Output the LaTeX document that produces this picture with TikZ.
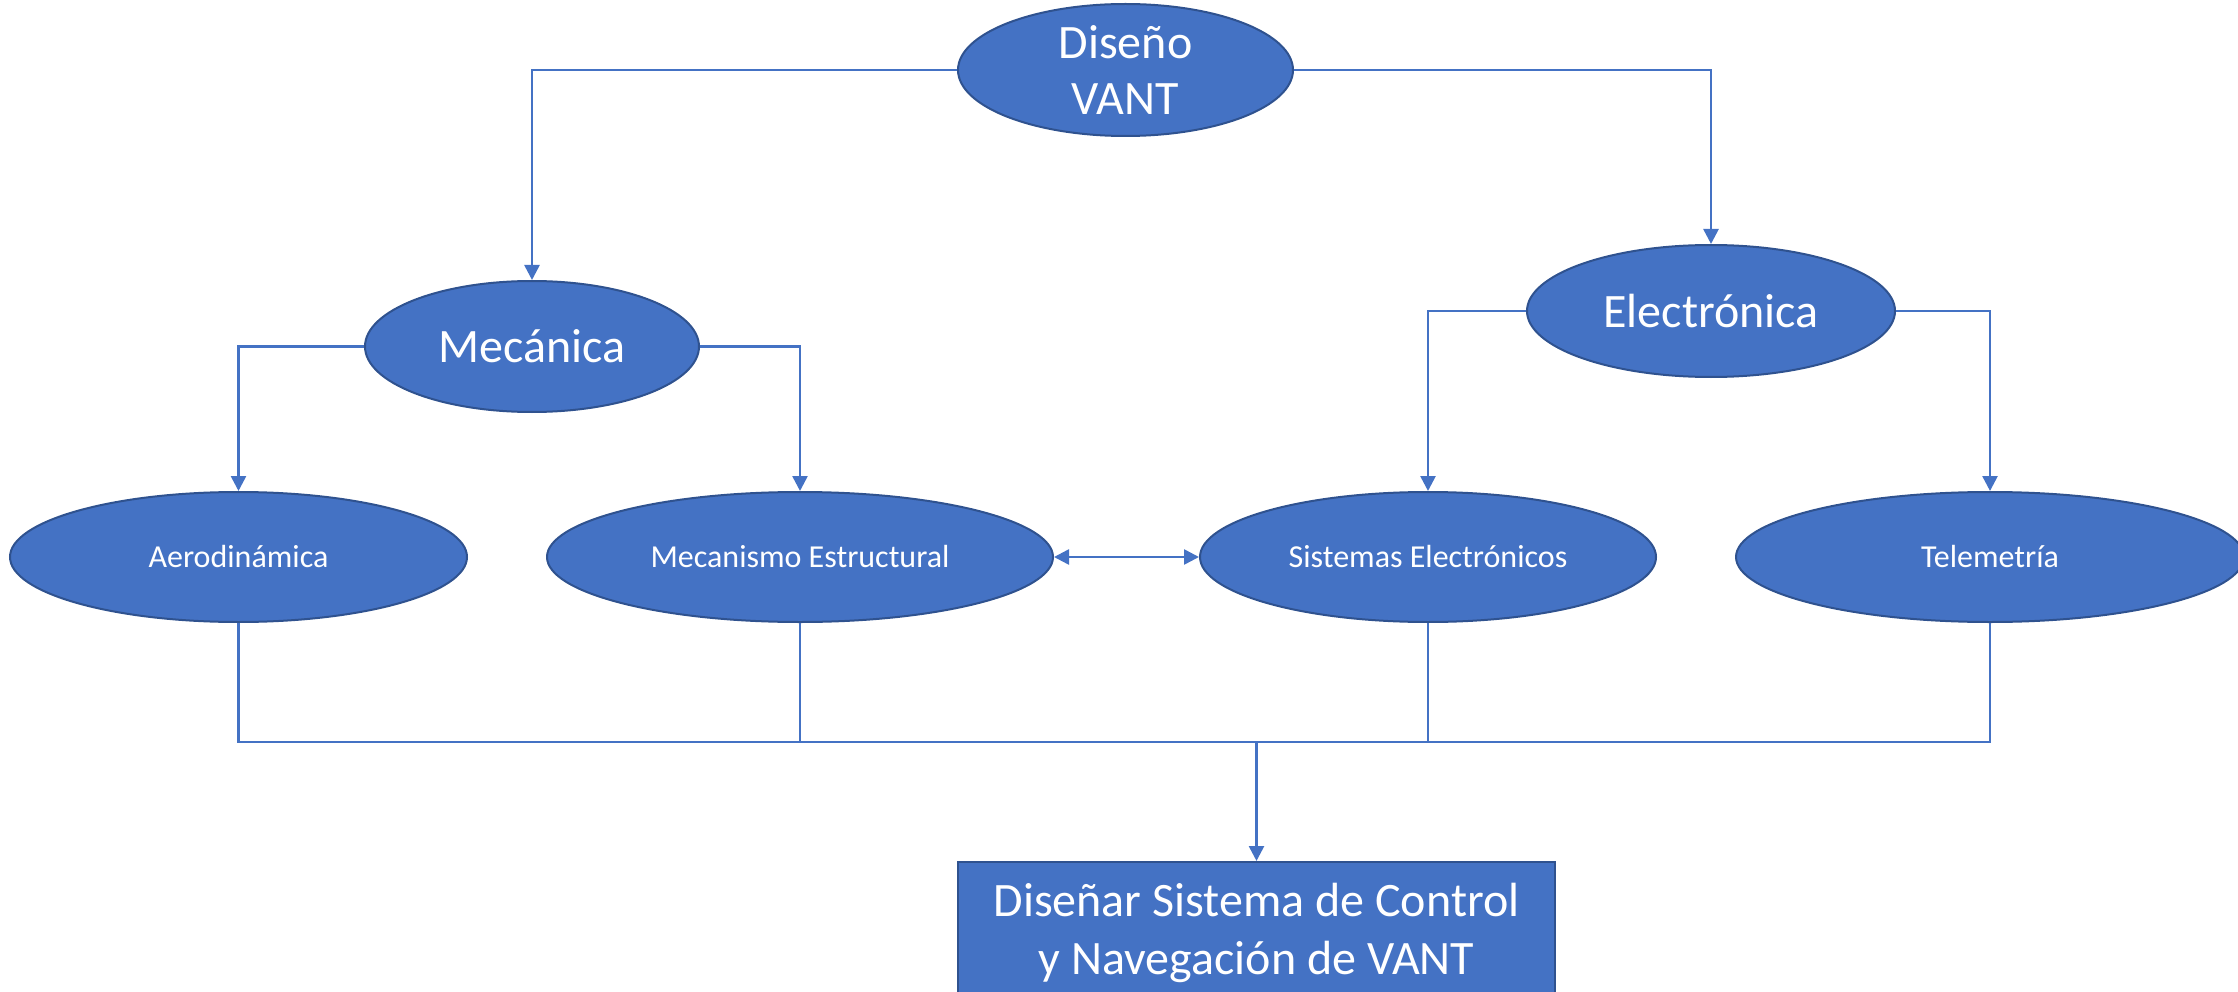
\documentclass[tikz,border=0pt]{standalone}
\usepackage{fontspec}
\setmainfont{Carlito}
\usetikzlibrary{shapes.geometric,arrows.meta}
\definecolor{fillblue}{HTML}{4472C4}
\definecolor{edgeblue}{HTML}{2F528F}
\tikzset{
  oval/.style={ellipse, draw=edgeblue, line width=2pt, fill=fillblue, text=white,
    inner sep=0pt, align=center},
  bigtext/.style={font=\fontsize{48}{56}\selectfont},
  smalltext/.style={font=\fontsize{32}{38}\selectfont},
  link/.style={draw=fillblue, line width=2.6pt},
  conn/.style={link, -{Triangle[length=15pt,width=15pt]}},
  bothconn/.style={link, {Triangle[length=15pt,width=15pt]}-{Triangle[length=15pt,width=15pt]}},
  goalbox/.style={rectangle, draw=edgeblue, line width=2pt, fill=fillblue, text=white,
    inner sep=0pt, align=center, font=\fontsize{48}{58}\selectfont}
}
\begin{document}
\begin{tikzpicture}[x=1pt,y=-1pt]
\useasboundingbox (0,0) rectangle (2238,992);

% top level
\node[oval, bigtext, minimum width=335pt, minimum height=132pt] (dis) at (1125.5,70) {Diseño\\VANT};

% second level
\node[oval, bigtext, minimum width=334pt, minimum height=131pt] (mec) at (532,346.5) {Mecánica};
\node[oval, bigtext, minimum width=368pt, minimum height=132pt] (ele) at (1711,311) {Electrónica};

% third level
\node[oval, smalltext, minimum width=457pt, minimum height=130pt] (aer) at (238.5,557) {Aerodinámica};
\node[oval, smalltext, minimum width=506pt, minimum height=130pt] (est) at (800,557) {Mecanismo Estructural};
\node[oval, smalltext, minimum width=456pt, minimum height=130pt] (sis) at (1428,557) {Sistemas Electrónicos};
\node[oval, smalltext, minimum width=508pt, minimum height=130pt] (tel) at (1990,557) {Telemetría};

% goal
\node[goalbox, minimum width=597pt, minimum height=136pt] (goal) at (1256.5,930) {};
\node[text=white, align=center, font=\fontsize{48}{58}\selectfont, inner sep=0pt] (goaltext) at (1256.5,933) {Diseñar Sistema de Control\\y Navegación de VANT};

% branches
\draw[conn] (dis.west) -| (mec.north);
\draw[conn] (dis.east) -| (ele.north);
\draw[conn] (mec.west) -| (aer.north);
\draw[conn] (mec.east) -| (est.north);
\draw[conn] (ele.west) -| (sis.north);
\draw[conn] (ele.east) -| (tel.north);
\draw[bothconn] (est.east) -- (sis.west);

% collector bus
\coordinate (bus) at (1256.5,742);
\draw[link] (aer.south) |- (bus) -| (tel.south);
\draw[link] (est.south) -- (est.south |- bus);
\draw[link] (sis.south) -- (sis.south |- bus);
\draw[conn] (bus) -- (goal.north);
\end{tikzpicture}
\end{document}
